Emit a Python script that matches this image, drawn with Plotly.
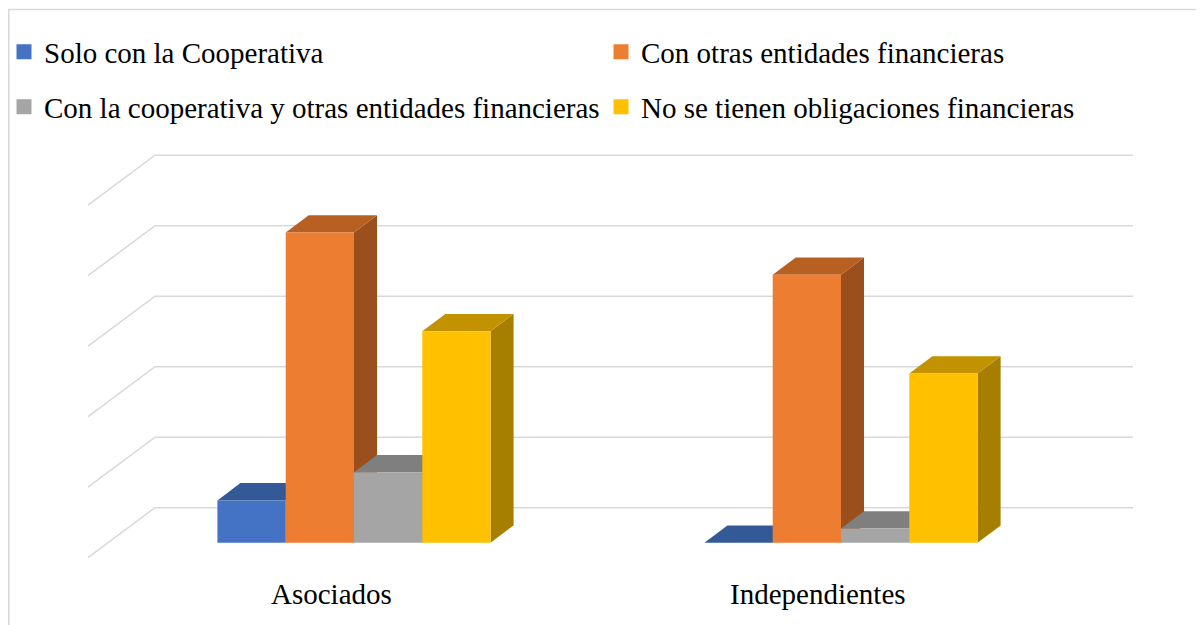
import plotly.graph_objects as go

# ---------------- data ----------------
categories = ["Asociados", "Independientes"]
series_names = [
    "Solo con la Cooperativa",
    "Con otras entidades financieras",
    "Con la cooperativa y otras entidades financieras",
    "No se tienen obligaciones financieras",
]
solo_cooperativa = [6, 0]
otras_entidades = [44, 38]
coop_y_otras = [10, 2]
sin_obligaciones = [30, 24]
grid_values = [0, 10, 20, 30, 40, 50]

series_values = [solo_cooperativa, otras_entidades, coop_y_otras, sin_obligaciones]

# ---------------- styling ----------------
front_colors = ["#4472C4", "#ED7D31", "#A5A5A5", "#FFC000"]
top_colors = ["#335A97", "#B85F22", "#7F7F7F", "#C29200"]
side_colors = ["#2F5290", "#9A4F1D", "#6E6E6E", "#A67E00"]
grid_color = "#D9D9D9"
font_family = "serif"

W, H = 1204, 625
OFF = 8                      # page offset of the figure (body margin)
L, R, T, B = 52, 52, 132, 0  # figure margins
PX_X = 487.0     # pixels per category unit
PX_Y = 7.05      # pixels per value unit
X0_PX = 354.0 - OFF    # figure pixel of first category centre
Y0_PX = 542.7 - OFF    # figure pixel of value 0 (bar front)

x_range = [(L - X0_PX) / PX_X, (W - R - X0_PX) / PX_X]
y_range = [(Y0_PX - (H - B)) / PX_Y, (Y0_PX - T) / PX_Y]

bar_w = 68.3 / PX_X
dx = 23.0 / PX_X          # oblique depth offset of a bar
dy = 17.3 / PX_Y
wall_dy = 35.0 / PX_Y     # back wall offset
wall_left = (155 - OFF - X0_PX) / PX_X
wall_right = (1133 - OFF - X0_PX) / PX_X
side_dx = 67.0 / PX_X     # left-wall diagonal
side_dy = 50.0 / PX_Y

fig = go.Figure()
shapes = []

# gridlines (left wall diagonal + back wall)
for v in grid_values:
    yb = v + wall_dy
    shapes.append(dict(
        type="path", xref="x", yref="y", layer="below",
        path=f"M {wall_left - side_dx},{yb - side_dy} L {wall_left},{yb} L {wall_right},{yb}",
        line=dict(color=grid_color, width=1.6),
    ))

n = len(series_values)
for i, (name, vals) in enumerate(zip(series_names, series_values)):
    xs = [g + (i - (n - 1) / 2) * bar_w for g in range(len(categories))]
    fig.add_trace(go.Bar(
        x=xs, y=vals, width=bar_w, base=0,
        marker=dict(color=front_colors[i], line=dict(width=0)),
        showlegend=False, hoverinfo="skip",
    ))
    for xc, v in zip(xs, vals):
        x0, x1 = xc - bar_w / 2, xc + bar_w / 2
        if v > 0:
            shapes.append(dict(
                type="path", xref="x", yref="y", layer="below",
                path=f"M {x1},0 L {x1},{v} L {x1 + dx},{v + dy} L {x1 + dx},{dy} Z",
                fillcolor=side_colors[i], line=dict(width=0),
            ))
        shapes.append(dict(
            type="path", xref="x", yref="y", layer="below",
            path=f"M {x0},{v} L {x1},{v} L {x1 + dx},{v + dy} L {x0 + dx},{v + dy} Z",
            fillcolor=top_colors[i], line=dict(width=0),
        ))

pw, ph = W - L - R, H - T - B

# legend proxies, one legend per entry (2 x 2 layout); positions in figure px
legend_pos = [(-4, 44), (593, 44), (-4, 99), (593, 99)]
legend_ids = ["legend", "legend2", "legend3", "legend4"]
legend_layouts = {}
for i, name in enumerate(series_names):
    fig.add_trace(go.Scatter(
        x=[None], y=[None], mode="markers", name=name,
        marker=dict(symbol="square", size=15, color=front_colors[i], line=dict(width=0)),
        legend=legend_ids[i], showlegend=True,
    ))
    px, py = legend_pos[i]
    legend_layouts[legend_ids[i]] = dict(
        xref="paper", yref="container",
        x=(px - L) / pw, y=1 - py / H, xanchor="left", yanchor="middle",
        font=dict(family=font_family, size=29, color="#000000"),
        bgcolor="rgba(0,0,0,0)", borderwidth=0,
    )

# category labels
label_y = (Y0_PX - (594 - OFF)) / PX_Y
annotations = [
    dict(x=g - dx, y=label_y, xref="x", yref="y", text=c, showarrow=False,
         xanchor="center", yanchor="middle",
         font=dict(family=font_family, size=29, color="#000000"))
    for g, c in enumerate(categories)
]

# outer chart border (top and left edges visible in the crop)
def to_paper(px, py):
    return (px - L) / pw, 1 - (py - T) / ph
bx0, by0 = to_paper(0.8, 1.5)
bx1, _ = to_paper(W + 5, 1.5)
_, by1 = to_paper(0.8, H + 5)
shapes.append(dict(type="path", xref="paper", yref="paper", layer="above",
                   path=f"M {bx1},{by0} L {bx0},{by0} L {bx0},{by1}",
                   line=dict(color=grid_color, width=1.6)))

fig.update_layout(
    width=W, height=H,
    margin=dict(l=L, r=R, t=T, b=B, autoexpand=False),
    font=dict(family=font_family, size=29, color="#000000"),
    paper_bgcolor="white", plot_bgcolor="white",
    barmode="overlay",
    xaxis=dict(range=x_range, visible=False, fixedrange=True),
    yaxis=dict(range=y_range, visible=False, fixedrange=True),
    shapes=shapes,
    annotations=annotations,
    **legend_layouts,
)

fig.write_html("out.html")
